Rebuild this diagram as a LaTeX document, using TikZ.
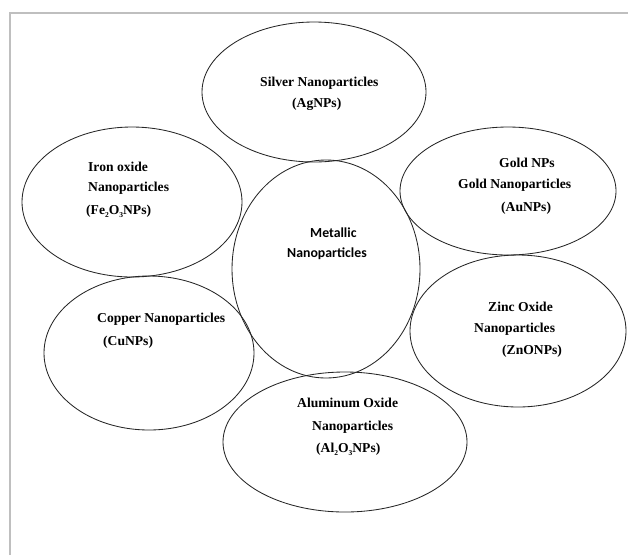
\documentclass[tikz,border=0pt]{standalone}
\usepackage{fontspec}
\setmainfont{Liberation Serif}
\newfontfamily\calfont{Carlito}

\newcommand{\npsub}[1]{\raisebox{-0.4ex}{\fontsize{7.5}{8}\selectfont #1}}

\tikzset{
  bubble/.style={draw=black!85, line width=0.85pt},
  lbl/.style={anchor=west, inner sep=0pt, text height=10pt, text depth=1pt,
    font=\bfseries\fontsize{13.6}{16}\selectfont},
  mlbl/.style={lbl, font=\calfont\bfseries\fontsize{13.8}{16}\selectfont},
}

\begin{document}
\begin{tikzpicture}[x=1pt,y=-1pt]
\useasboundingbox (0,0) rectangle (628,555);
\draw[color=black!25, line width=2pt](10,555) -- (10,13) -- (628,13);

\draw[bubble](314,92) ellipse (112pt and 70pt);
\draw[bubble](132,202) ellipse (110pt and 75pt);
\draw[bubble](508,191) ellipse (108pt and 64pt);
\draw[bubble](326,269) ellipse (94pt and 109pt);
\draw[bubble](149,353) ellipse (105pt and 77pt);
\draw[bubble](518,331) ellipse (108pt and 76pt);
\draw[bubble](345,442) ellipse (122pt and 70pt);

\node[lbl] (ag1) at (260,82) {Silver Nanoparticles};
\node[lbl] (ag2) at (292,103) {(AgNPs)};

\node[lbl] (fe1) at (88,167) {Iron oxide};
\node[lbl] (fe2) at (88,187) {Nanoparticles};
\node[lbl] (fe3) at (86,210) {(Fe\npsub{2}O\npsub{3}NPs)};

\node[lbl] (au1) at (499,163) {Gold NPs};
\node[lbl] (au2) at (458,184) {Gold Nanoparticles};
\node[lbl] (au3) at (501,207) {(AuNPs)};

\node[mlbl] (mt1) at (310,233) {Metallic};
\node[mlbl] (mt2) at (287,253) {Nanoparticles};

\node[lbl] (cu1) at (97,318) {Copper Nanoparticles};
\node[lbl] (cu2) at (103,341) {(CuNPs)};

\node[lbl] (zn1) at (488,307) {Zinc Oxide};
\node[lbl] (zn2) at (474,328) {Nanoparticles};
\node[lbl] (zn3) at (502,350) {(ZnONPs)};

\node[lbl] (al1) at (297,403) {Aluminum Oxide};
\node[lbl] (al2) at (312,426) {Nanoparticles};
\node[lbl] (al3) at (316,448) {(Al\npsub{2}O\npsub{3}NPs)};

\end{tikzpicture}
\end{document}
